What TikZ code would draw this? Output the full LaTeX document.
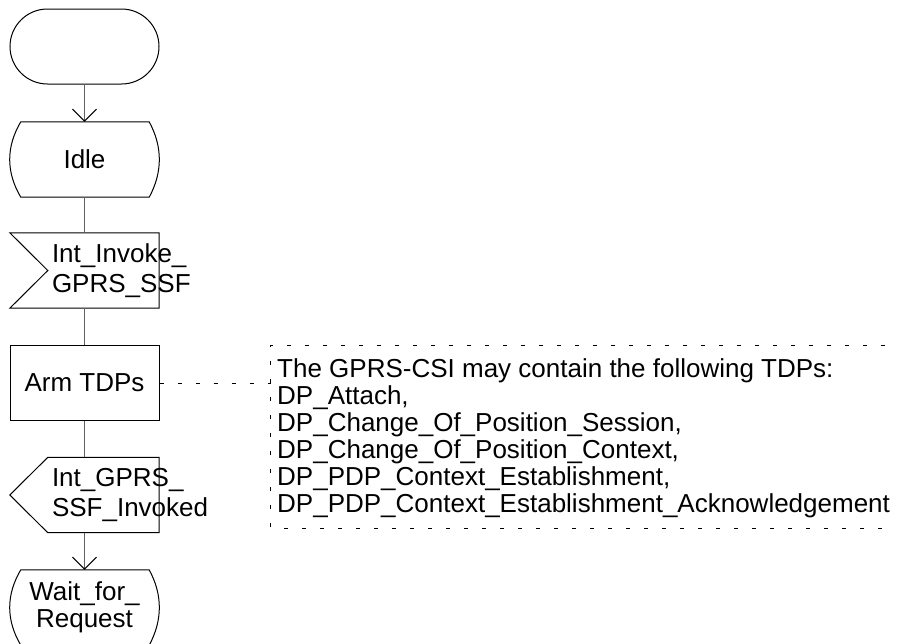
\documentclass[tikz,border=0pt]{standalone}
\usepackage{fontspec}
\setmainfont{Liberation Sans}
\usetikzlibrary{arrows.meta,calc}

% SDL state symbol: straight top and bottom, sides bulging outwards
\newcommand\sdlstate[1]{%
  \draw[outline] ($(#1.north west)+(11,0)$) -- ($(#1.north east)+(-10,0)$)
    .. controls ($(#1.north east)+(3.5,25)$) and ($(#1.south east)+(3.5,-25)$) .. ($(#1.south east)+(-10,0)$)
    -- ($(#1.south west)+(11,0)$)
    .. controls ($(#1.south west)+(-3.8,-25)$) and ($(#1.north west)+(-3.8,25)$) .. cycle;}

\begin{document}
\begin{tikzpicture}[x=1pt,y=-1pt,
  every node/.style={font=\fontsize{26pt}{27pt}\selectfont, inner sep=0pt},
  sdlbox/.style={minimum width=149pt, minimum height=75pt},
  outline/.style={draw=black, line width=1pt},
  flow/.style={draw=black!62, line width=1.7pt},
  flowarrow/.style={flow, -{Straight Barb[length=12pt,width=24pt,color=black,line width=1pt]}},
  notedash/.style={draw=black, line width=0.9pt, dash pattern=on 4pt off 14pt},
  sigtext/.style={anchor=west, align=left, xshift=42pt, font=\fontsize{26pt}{30pt}\selectfont},
]
\useasboundingbox (0,0) rectangle (902,643);
\clip (0,0) rectangle (902,643);

% process symbols
\node[sdlbox, draw, line width=1pt, rounded corners=37.5pt] (start) at (84.5,46.5) {};
\node[sdlbox] (idle) at (84.5,159.5) {Idle};
\node[sdlbox, label={[sigtext]west:Int\_Invoke\_\\GPRS\_SSF}] (invoke) at (84.5,270.5) {};
\node[sdlbox, draw, line width=1pt] (arm) at (84.5,383) {Arm TDPs};
\node[sdlbox, label={[sigtext]west:Int\_GPRS\_\\SSF\_Invoked}] (invoked) at (84.5,495) {};
\node[sdlbox, align=center] (wait) at (84.5,607.5) {Wait\_for\_\\Request};

% outlines
\sdlstate{idle}
\sdlstate{wait}
\draw[outline] (invoke.north west) -- (invoke.north east) -- (invoke.south east)
  -- (invoke.south west) -- ($(invoke.west)+(38,0)$) -- cycle;
\draw[outline] ($(invoked.north west)+(38,0)$) -- (invoked.north east) -- (invoked.south east)
  -- ($(invoked.south west)+(38,0)$) -- (invoked.west) -- cycle;

% flow lines
\draw[flowarrow] (start.south) -- (idle.north);
\draw[flow] (idle.south) -- (invoke.north);
\draw[flow] (invoke.south) -- (arm.north);
\draw[flow] (arm.south) -- (invoked.north);
\draw[flowarrow] (invoked.south) -- (wait.north);

% comment
\node[minimum width=614pt, minimum height=182pt] (notebox) at (578,437) {};
\draw[notedash] (notebox.north east) -- (notebox.north west) -- (notebox.south west) -- (notebox.south east);
\node[anchor=north west, align=left] (notetext) at (277,358.3)
  {The GPRS-CSI may contain the following TDPs:\\
   DP\_Attach,\\
   DP\_Change\_Of\_Position\_Session,\\
   DP\_Change\_Of\_Position\_Context,\\
   DP\_PDP\_Context\_Establishment,\\
   DP\_PDP\_Context\_Establishment\_Acknowledgement};
\draw[notedash] (arm.east) -- (notebox.west |- arm.east);
\end{tikzpicture}
\end{document}
